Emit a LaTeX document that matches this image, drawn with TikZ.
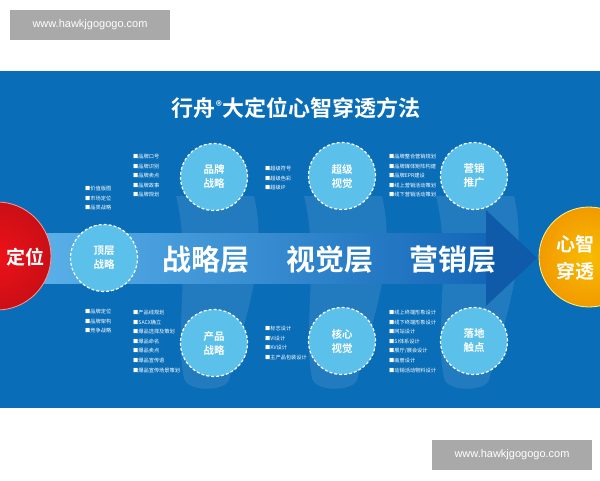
\documentclass[tikz,border=0pt]{standalone}
\usepackage{fontspec}
\setmainfont{Noto Sans CJK SC}[BoldFont={Noto Sans CJK SC Bold}]
\newfontfamily\wmfont{Liberation Sans}
\usetikzlibrary{positioning}

\definecolor{panelblue}{HTML}{0A6DB7}
\definecolor{shaftlight}{HTML}{5AB0E8}
\definecolor{shaftdark}{HTML}{1467B8}
\definecolor{headblue}{HTML}{0F5BAA}
\definecolor{stagecyan}{HTML}{5CC1EA}
\definecolor{startred}{HTML}{EE1119}
\definecolor{goalyellow}{HTML}{F8BC00}
\definecolor{goaledge}{HTML}{F29A00}
\definecolor{wmgray}{HTML}{A9A9A9}

\begin{document}
\begin{tikzpicture}[x=1pt,y=-1pt,
    stage/.style={circle, draw=white, dash pattern=on 3pt off 2pt, line width=1.2pt,
      fill=stagecyan, minimum size=67pt, inner sep=0pt, text=white, align=center,
      font=\bfseries\fontsize{10.5}{14}\selectfont},
    layer/.style={text=white, inner sep=0pt, font=\bfseries\fontsize{29}{30}\selectfont},
    points/.style={anchor=north west, inner sep=0pt, text=white, align=left,
      font=\fontsize{5.2}{9.6}\selectfont},
    wmark/.style={fill=wmgray, text=white, minimum width=160pt, minimum height=30pt,
      inner sep=0pt, font=\wmfont\fontsize{11}{12}\selectfont},
    band/.style={fill=white, fill opacity=0.1}]
  \useasboundingbox (0,0) rectangle (600,480);

  % Draw the blue panel
  \fill[panelblue] (0,71) rectangle (600,408);

  % Draw the light bands behind each column
  \foreach \cx in {214,342,474}{
    \fill[band] (\cx-38,196) .. controls (\cx-22,260) and (\cx-40,330) .. (\cx-30,378)
      .. controls (\cx-27,392) and (\cx+10,392) .. (\cx+15,380)
      .. controls (\cx+30,320) and (\cx+55,260) .. (\cx+40,196) -- cycle;
  }

  % Draw the arrow
  \shade[left color=shaftlight, right color=shaftdark] (40,233) rectangle (488,283);
  \fill[headblue] (486,210) -- (537,258) -- (486,306) -- cycle;

  \begin{scope}
    \clip (0,71) rectangle (600,408);
    % Draw the start and the goal
    \node[circle, minimum size=108pt, inner color=startred, outer color=startred!85!black,
      draw=red!40, line width=0.8pt] (start) at (-3,256) {};
    \node[circle, minimum size=100pt, inner color=goalyellow, outer color=goaledge,
      draw=yellow!50, line width=0.8pt] (goal) at (589,257) {};
  \end{scope}
  \node[text=white, font=\bfseries\fontsize{19}{22}\selectfont] (startText) at (25,257) {定位};
  \node[text=white, align=center, font=\bfseries\fontsize{19}{27}\selectfont] (goalText) at (575,258) {心智\\穿透};

  % Title
  \node[text=white, font=\bfseries\fontsize{22}{26}\selectfont] (title) at (296,108)
    {行舟\raisebox{6pt}{\fontsize{12}{12}\selectfont ®}大定位心智穿透方法};

  % Layers
  \node[layer] (strategy) at (206,260) {战略层};
  \node[layer] (visual) at (330,260) {视觉层};
  \node[layer] (marketing) at (453,260) {营销层};

  % Stages
  \node[stage] (topStrategy) at (104,258) {顶层\\战略};
  \node[stage] (brandStrategy) at (214,177) {品牌\\战略};
  \node[stage] (superVisual) at (342,176) {超级\\视觉};
  \node[stage] (promotion) at (474,176) {营销\\推广};
  \node[stage] (productStrategy) at (214,343) {产品\\战略};
  \node[stage] (coreVisual) at (342,341) {核心\\视觉};
  \node[stage] (touchPoint) at (474,341) {落地\\触点};

  % Points of each stage
  \node[points] (topUpper) at (85,186) {■价值版图\\■市场定位\\■品类战略};
  \node[points] (topLower) at (85,309) {■品牌定位\\■品牌架构\\■竞争战略};
  \node[points] (brandPoints) at (133,154) {■品牌口号\\■品牌识别\\■品牌卖点\\■品牌故事\\■品牌规划};
  \node[points] (superPoints) at (265,166) {■超级符号\\■超级色彩\\■超级IP};
  \node[points] (promoPoints) at (389,154) {■品牌整合营销规划\\■品牌媒体矩阵构建\\■品牌EPR建设\\■线上营销活动策划\\■线下营销活动策划};
  \node[points] (productPoints) at (133,310) {■产品线规划\\■SACX确立\\■爆品选择及策划\\■爆品命名\\■爆品卖点\\■爆品宣传语\\■爆品宣传场景策划};
  \node[points] (corePoints) at (265,326) {■标志设计\\■VI设计\\■KV设计\\■主产品包装设计};
  \node[points] (touchPoints) at (389,310) {■线上终端形象设计\\■线下终端形象设计\\■网站设计\\■SI体系设计\\■展厅/展会设计\\■画册设计\\■动销活动物料设计};

  % Watermarks
  \node[wmark] (wmTop) at (90,25) {www.hawkjgogogo.com};
  \node[wmark] (wmBottom) at (512,455) {www.hawkjgogogo.com};
\end{tikzpicture}
\end{document}
